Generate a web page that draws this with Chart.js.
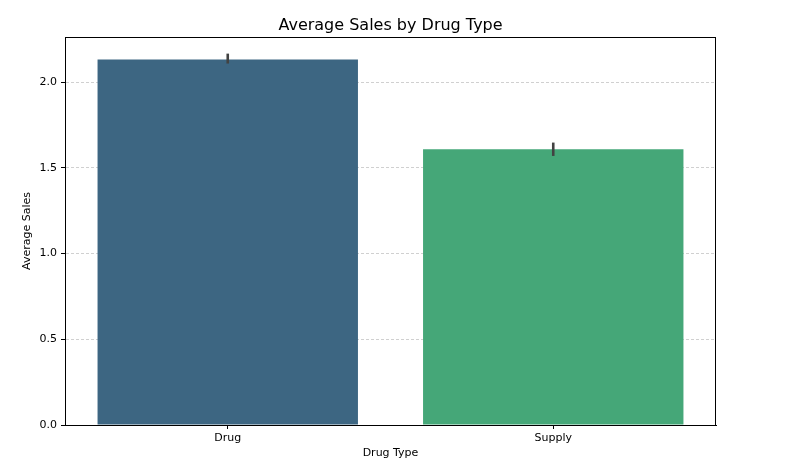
<!DOCTYPE html>
<html lang="en">

<head>
    <meta charset="UTF-8">
    <title>Average Sales by Drug Type</title>
    <script src="https://cdn.jsdelivr.net/npm/chart.js"></script>
    <style>
        html, body { margin: 0; padding: 0; background: #fff; }
        #wrap { width: 800px; height: 460px; }
    </style>
</head>

<body>
    <div id="wrap"><canvas id="salesChart" width="800" height="460"></canvas></div>

    <script>
        // chart data
        const drugTypes = ["Drug", "Supply"];
        const avgSales = [2.133, 1.609];
        const ciLow = [2.109, 1.570];
        const ciHigh = [2.167, 1.648];
        const barColors = ["#3d6682", "#45a778"];
        const yTicks = [0.0, 0.5, 1.0, 1.5, 2.0];

        const FONT = "'DejaVu Sans', sans-serif";

        // draws the seaborn style error bars and the top/right spines
        const extrasPlugin = {
            id: "extras",
            afterDatasetsDraw(chart) {
                let ctx = chart.ctx;
                let x = chart.scales.x;
                let y = chart.scales.y;
                ctx.save();
                ctx.strokeStyle = "#424242";
                ctx.lineWidth = 2.6;
                for (let i = 0; i < drugTypes.length; i++) {
                    let px = x.getPixelForValue(i);
                    ctx.beginPath();
                    ctx.moveTo(px, y.getPixelForValue(ciLow[i]));
                    ctx.lineTo(px, y.getPixelForValue(ciHigh[i]));
                    ctx.stroke();
                }
                ctx.restore();
            },
            afterDraw(chart) {
                let ctx = chart.ctx;
                let a = chart.chartArea;
                ctx.save();
                ctx.strokeStyle = "#000";
                ctx.lineWidth = 1;
                ctx.strokeRect(a.left + 0.5, a.top + 0.5, a.right - a.left - 1, a.bottom - a.top);
                // title centred over the plot area like matplotlib
                ctx.fillStyle = "#000";
                ctx.font = "16px " + FONT;
                ctx.textAlign = "center";
                ctx.textBaseline = "alphabetic";
                ctx.fillText("Average Sales by Drug Type", (a.left + a.right) / 2, a.top - 7);
                ctx.restore();
            }
        };

        let ctx = document.getElementById("salesChart").getContext("2d");
        let chartInstance = new Chart(ctx, {
            type: "bar",
            data: {
                labels: drugTypes,
                datasets: [{
                    label: "Average Sales",
                    data: avgSales,
                    backgroundColor: barColors,
                    borderWidth: 0,
                    barPercentage: 0.8,
                    categoryPercentage: 1.0
                }]
            },
            options: {
                responsive: false,
                animation: false,
                layout: { padding: { top: 37, right: 84, left: 0, bottom: 0 } },
                plugins: {
                    legend: { display: false },
                    tooltip: { enabled: false }
                },
                scales: {
                    x: {
                        offset: true,
                        grid: {
                            display: true,
                            offset: false,
                            drawOnChartArea: false,
                            tickLength: 4,
                            tickColor: "#000",
                            tickWidth: 1
                        },
                        border: { display: true, color: "#000", width: 1 },
                        ticks: { color: "#000", padding: 3, font: { family: FONT, size: 11 } },
                        title: {
                            display: true,
                            text: "Drug Type",
                            color: "#000",
                            padding: { top: 0, bottom: 0 },
                            font: { family: FONT, size: 11 }
                        },
                        afterFit(scale) { scale.height = 35; }
                    },
                    y: {
                        min: 0,
                        max: 2.264,
                        afterBuildTicks(scale) {
                            scale.ticks = yTicks.map(v => ({ value: v }));
                        },
                        grid: {
                            color: "rgba(176,176,176,0.75)",
                            lineWidth: 0.8,
                            tickLength: 4,
                            tickColor: "#000",
                            tickWidth: 1,
                            tickBorderDash: []
                        },
                        // in v4 border.dash sets the dash of the grid lines
                        border: { display: true, color: "#000", width: 1, dash: [3, 2] },
                        ticks: {
                            color: "#000",
                            padding: 4,
                            font: { family: FONT, size: 11 },
                            callback: v => Number(v).toFixed(1)
                        },
                        title: {
                            display: true,
                            text: "Average Sales",
                            color: "#000",
                            padding: { top: 21, bottom: 0 },
                            font: { family: FONT, size: 11 }
                        },
                        afterFit(scale) { scale.width = 65; }
                    }
                }
            },
            plugins: [extrasPlugin]
        });
    </script>
</body>

</html>
